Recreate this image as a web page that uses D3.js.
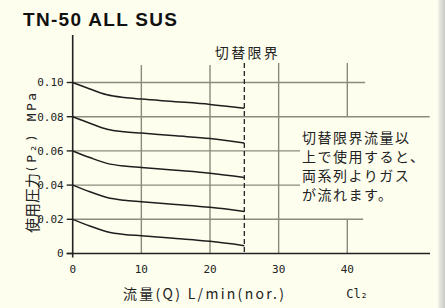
<!DOCTYPE html>
<html>
<head>
<meta charset="utf-8">
<script src="https://cdn.jsdelivr.net/npm/d3@7"></script>
<style>
  html, body { margin: 0; padding: 0; background: #fefeee; }
  svg { display: block; }
</style>
</head>
<body>
<svg id="chart"></svg>
<script>
// Flow points (L/min) and the pressure curves (MPa)
const flowPts = [0, 2.5, 5, 7.5, 10, 15, 20, 25];
const curve010 = [0.100, 0.0962, 0.0928, 0.0912, 0.0903, 0.0888, 0.0872, 0.0850];
const curve008 = [0.080, 0.0762, 0.0727, 0.0712, 0.0704, 0.0688, 0.0672, 0.0646];
const curve006 = [0.060, 0.0561, 0.0527, 0.0511, 0.0503, 0.0487, 0.0470, 0.0445];
const curve004 = [0.040, 0.0361, 0.0327, 0.0311, 0.0303, 0.0287, 0.0270, 0.0246];
const curve002 = [0.020, 0.0161, 0.0127, 0.0111, 0.0104, 0.0088, 0.0071, 0.0046];
const xTicks = [0, 10, 20, 30, 40];
const yTicks = [0, 0.02, 0.04, 0.06, 0.08, 0.10];
const switchFlow = 25;
const noteLines = ["切替限界流量以", "上で使用すると、", "両系列よりガス", "が流れます。"];

const W = 445, H = 308;
const svg = d3.select("#chart").attr("width", W).attr("height", H);

// background + right shadow edge
svg.append("rect").attr("width", W).attr("height", H).attr("fill", "#fefeee");
const grad = svg.append("defs").append("linearGradient").attr("id", "edge");
grad.append("stop").attr("offset", "0%").attr("stop-color", "#f2f2e6");
grad.append("stop").attr("offset", "100%").attr("stop-color", "#c8c8c8");
svg.append("rect").attr("x", 438).attr("y", 0).attr("width", 7).attr("height", H).attr("fill", "url(#edge)");

let x = d3.scaleLinear().domain([0, 40]).range([72.7, 347.3]);
let y = d3.scaleLinear().domain([0, 0.1]).range([253.5, 82.5]);

const gridCol = "#8b8b7d";
const mono = "'DejaVu Sans Mono', monospace";
const jp = "'Noto Sans CJK JP', sans-serif";

// horizontal grid lines, some stop where the note sits
const hEnds = {0.02: 42.3, 0.04: 33.1, 0.06: 33.1, 0.08: 52, 0.10: 42.6};
svg.selectAll(".hgrid")
    .data(yTicks.filter(d => d > 0))
    .join("line")
        .attr("class", "hgrid")
        .attr("x1", x(0)).attr("x2", d => x(hEnds[d]))
        .attr("y1", d => y(d)).attr("y2", d => y(d))
        .style("stroke", gridCol)
        .style("stroke-width", "1.4px");

// vertical grid lines (the 40 line is broken by the note)
const vSegs = [
    [10, 0, 0.1102], [20, 0, 0.1102], [30, 0, 0.1114],
    [40, 0, 0.02], [40, 0.08, 0.1114]
];
svg.selectAll(".vgrid")
    .data(vSegs)
    .join("line")
        .attr("class", "vgrid")
        .attr("x1", d => x(d[0])).attr("x2", d => x(d[0]))
        .attr("y1", d => y(d[1])).attr("y2", d => y(d[2]))
        .style("stroke", gridCol)
        .style("stroke-width", "1.4px");

// axes
svg.append("line")
    .attr("x1", x(0) - 6).attr("x2", 430)
    .attr("y1", y(0)).attr("y2", y(0))
    .style("stroke", "#222").style("stroke-width", "1.6px");
svg.append("line")
    .attr("x1", x(0)).attr("x2", x(0))
    .attr("y1", 35).attr("y2", y(0) + 4)
    .style("stroke", "#222").style("stroke-width", "1.6px");
svg.selectAll(".ytick")
    .data(yTicks)
    .join("line")
        .attr("class", "ytick")
        .attr("x1", x(0) - 6).attr("x2", x(0))
        .attr("y1", d => y(d)).attr("y2", d => y(d))
        .style("stroke", "#222").style("stroke-width", "1.4px");

svg.selectAll(".ylab")
    .data(yTicks)
    .join("text")
        .attr("class", "ylab")
        .attr("x", x(0) - 9)
        .attr("y", d => y(d))
        .attr("dy", "0.35em")
        .attr("text-anchor", "end")
        .style("font-family", mono)
        .style("font-size", "11px")
        .attr("fill", "#222")
        .text(d => d === 0 ? "0" : d3.format(".2f")(d));

svg.selectAll(".xlab")
    .data(xTicks)
    .join("text")
        .attr("class", "xlab")
        .attr("x", d => x(d))
        .attr("y", 269)
        .attr("dy", "0.35em")
        .attr("text-anchor", "middle")
        .style("font-family", mono)
        .style("font-size", "11px")
        .attr("fill", "#222")
        .text(d => d);

// switch-over limit (dashed)
svg.append("line")
    .attr("x1", x(switchFlow)).attr("x2", x(switchFlow))
    .attr("y1", y(0.1114)).attr("y2", y(0))
    .style("stroke", "#222").style("stroke-width", "1.3px")
    .style("stroke-dasharray", "5,3");
svg.append("text")
    .attr("x", x(switchFlow) + 2).attr("y", 53).attr("dy", "0.35em")
    .attr("text-anchor", "middle")
    .style("font-family", jp).style("font-size", "14px")
    .attr("textLength", 63).attr("lengthAdjust", "spacing")
    .attr("fill", "#222")
    .text("切替限界");

// pressure curves
const series = [curve010, curve008, curve006, curve004, curve002];
const line = d3.line()
    .x((d, i) => x(flowPts[i]))
    .y(d => y(d))
    .curve(d3.curveMonotoneX);
svg.selectAll(".curve")
    .data(series)
    .join("path")
        .attr("class", "curve")
        .attr("d", d => line(d))
        .style("fill", "none")
        .style("stroke", "#1e1e1e")
        .style("stroke-width", "1.5px");

// note
svg.selectAll(".note")
    .data(noteLines)
    .join("text")
        .attr("class", "note")
        .attr("x", 302)
        .attr("y", (d, i) => 138 + i * 19)
        .attr("dy", "0.35em")
        .style("font-family", jp).style("font-size", "14px")
        .style("letter-spacing", "1.5px")
        .attr("fill", "#222")
        .text(d => d);

// title
svg.append("text")
    .attr("x", 23).attr("y", 26)
    .style("font-family", "'Liberation Sans', Arial, sans-serif")
    .style("font-weight", "bold").style("font-size", "19px")
    .attr("textLength", 154).attr("lengthAdjust", "spacing")
    .attr("fill", "#111")
    .text("TN-50 ALL SUS");

// axis titles
svg.append("text")
    .attr("x", 123).attr("y", 294).attr("dy", "0.35em")
    .style("font-family", jp).style("font-size", "14px")
    .attr("textLength", 161).attr("lengthAdjust", "spacing")
    .attr("fill", "#222")
    .text("流量(Q) L/min(nor.)");
svg.append("text")
    .attr("x", 357).attr("y", 294).attr("dy", "0.35em")
    .attr("text-anchor", "middle")
    .style("font-family", mono).style("font-size", "12px")
    .attr("fill", "#222")
    .text("Cl₂");
let yTitle = svg.append("text")
    .attr("transform", "translate(32,233) rotate(-90)")
    .attr("dy", "0.35em")
    .attr("fill", "#222");
yTitle.append("tspan")
    .style("font-family", jp).style("font-size", "15px")
    .text("使用圧力");
yTitle.append("tspan")
    .attr("dy", -1.5)
    .style("font-family", mono).style("font-size", "13px")
    .style("letter-spacing", "2.5px")
    .text("(P₂) MPa");
</script>
</body>
</html>
